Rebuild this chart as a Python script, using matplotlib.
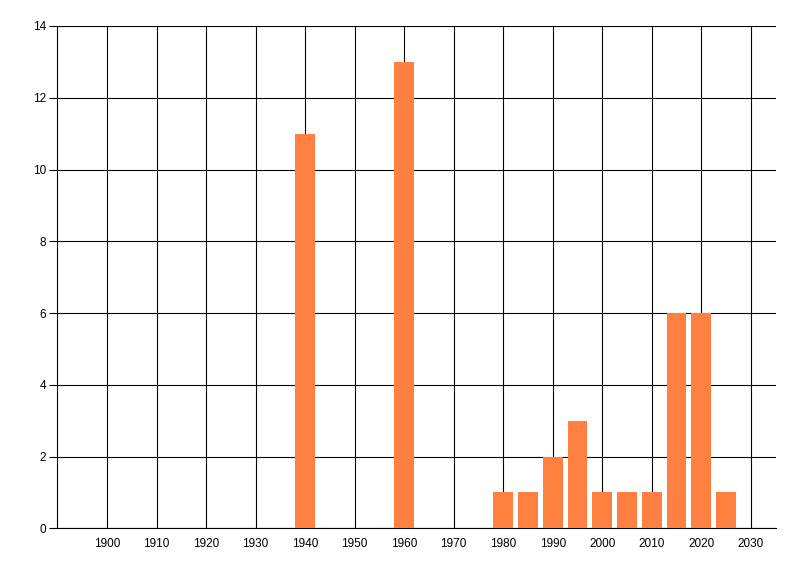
import matplotlib.pyplot as plt

plt.rcParams['font.family'] = ['Liberation Sans', 'DejaVu Sans']

# data
years = [1940, 1960, 1980, 1985, 1990, 1995, 2000, 2005, 2010, 2015, 2020, 2025]
counts = [11, 13, 1, 1, 2, 3, 1, 1, 1, 6, 6, 1]
x_ticks = list(range(1900, 2031, 10))
y_ticks = list(range(0, 15, 2))

fig = plt.figure(figsize=(8, 5.76), dpi=100)
ax = fig.add_axes([57.5 / 800, (576 - 528.3) / 576, (775.5 - 57.5) / 800, (528.3 - 26) / 576])

ax.bar(years, counts, width=4, color='#FF8040', zorder=3)

ax.set_xlim(1890, 2035)
ax.set_ylim(0, 14)
ax.set_xticks(x_ticks)
ax.set_yticks(y_ticks)
ax.grid(True, color='black', linewidth=0.8, zorder=1)
ax.set_axisbelow(True)

for s in ['top', 'right']:
    ax.spines[s].set_visible(False)
for s in ['left', 'bottom']:
    ax.spines[s].set_color('black')
    ax.spines[s].set_linewidth(0.8)

ax.tick_params(axis='x', length=0, pad=7, labelsize=8.5)
ax.tick_params(axis='y', length=6, width=0.8, pad=2, labelsize=8.5)

fig.savefig('out.png', dpi=100)
